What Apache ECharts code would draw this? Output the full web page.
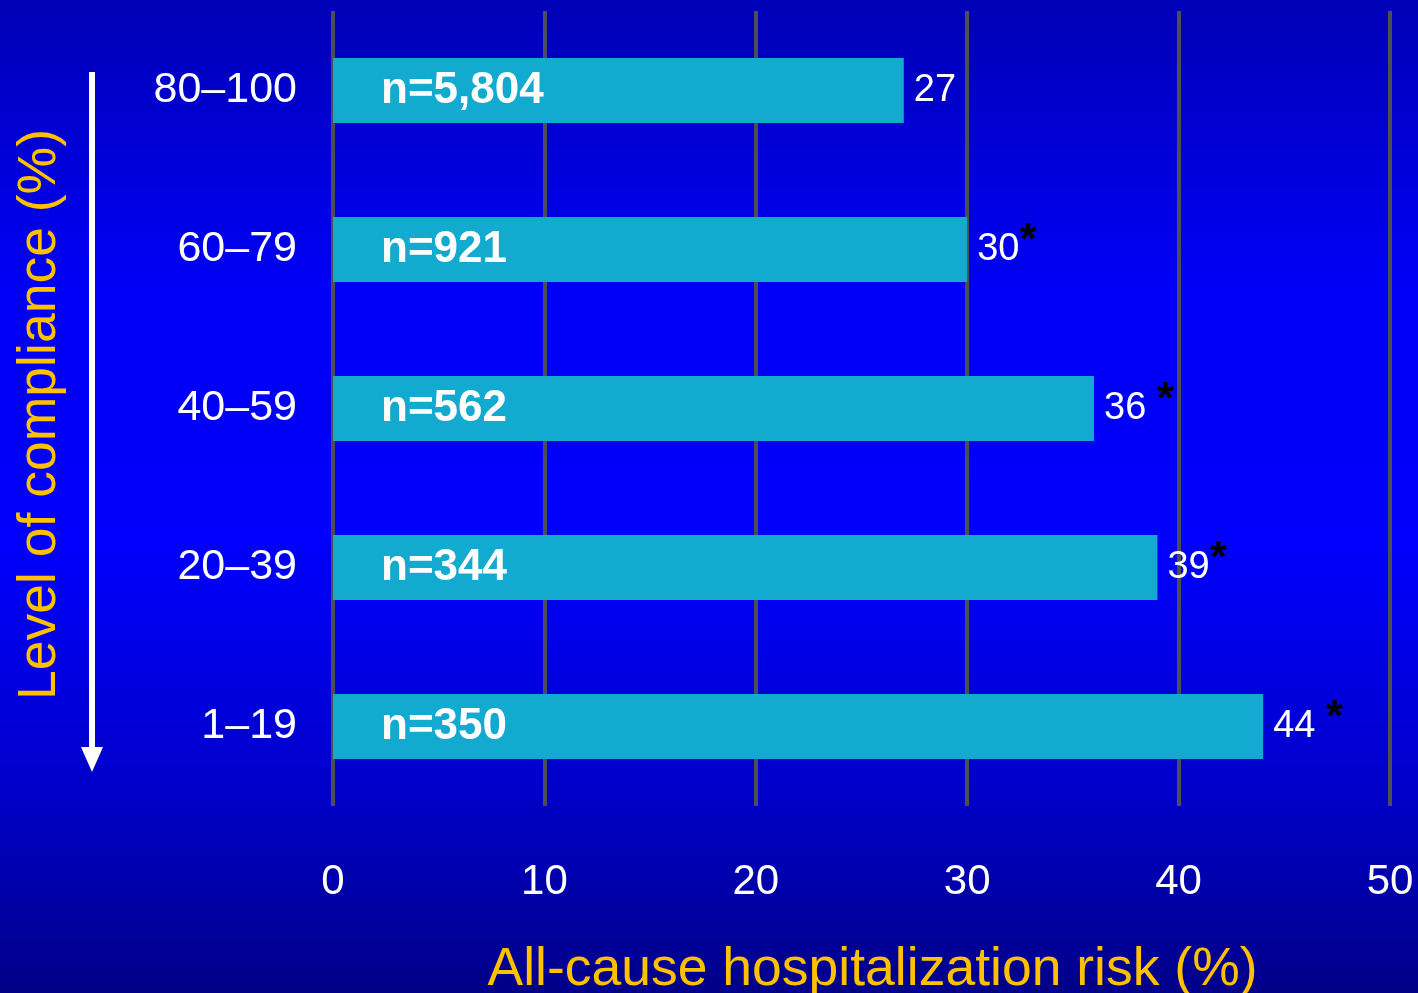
<!DOCTYPE html>
<html>
<head>
<meta charset="utf-8">
<script src="https://cdn.jsdelivr.net/npm/echarts@6/dist/echarts.min.js"></script>
<style>
  html, body { margin: 0; padding: 0; width: 100%; height: 100%; overflow: hidden; }
  #chart { width: 1418px; height: 993px; }
</style>
</head>
<body>
<div id="chart"></div>
<script>
// Compliance bands, top to bottom
const categories = ['80–100', '60–79', '40–59', '20–39', '1–19'];
// All-cause hospitalization risk (%) per band
const riskValues = [27, 30, 36, 39, 44];
// Patients per band
const sampleSizes = ['5,804', '921', '562', '344', '350'];
// Significance markers shown after each value
const significance = ['', '*', ' *', '*', ' *'];
// X axis ticks
const xTicks = [0, 10, 20, 30, 40, 50];

const FONT = '"Liberation Sans", Arial, sans-serif';
const ORANGE = '#FFC000';

const chart = echarts.init(document.getElementById('chart'));

chart.setOption({
  backgroundColor: {
    type: 'linear', x: 0, y: 0, x2: 0, y2: 1,
    colorStops: [
      { offset: 0, color: '#0000b6' },
      { offset: 0.3, color: '#0000f8' },
      { offset: 0.55, color: '#0000fc' },
      { offset: 0.8, color: '#0000c8' },
      { offset: 1, color: '#000088' }
    ]
  },
  textStyle: { fontFamily: FONT },
  animation: false,
  grid: { left: 333, right: 28, top: 11, bottom: 187, containLabel: false, outerBoundsMode: 'none' },
  xAxis: {
    type: 'value',
    min: xTicks[0],
    max: xTicks[xTicks.length - 1],
    interval: 10,
    axisLine: { show: false },
    axisTick: { show: false },
    splitLine: { show: true, lineStyle: { color: '#4d4d55', width: 4 } },
    axisLabel: { color: '#ffffff', fontSize: 42, margin: 55, fontFamily: FONT },
    name: 'All-cause hospitalization risk (%)',
    nameLocation: 'middle',
    nameGap: 137,
    nameTextStyle: { color: ORANGE, fontSize: 53.5, fontFamily: FONT, padding: [0, 0, 0, 22] }
  },
  yAxis: {
    type: 'category',
    data: categories,
    inverse: true,
    axisLine: { show: false },
    axisTick: { show: false },
    splitLine: { show: false },
    axisLabel: { color: '#ffffff', fontSize: 43, margin: 36, fontFamily: FONT },
    name: 'Level of compliance (%)',
    nameLocation: 'middle',
    nameRotate: 90,
    nameGap: 266,
    nameTextStyle: { color: ORANGE, fontSize: 53.5, fontFamily: FONT, padding: [0, 12, 0, 0] }
  },
  series: [
    {
      type: 'bar',
      data: riskValues,
      barWidth: 65,
      itemStyle: { color: '#12aace' },
      label: {
        show: true,
        position: 'right',
        distance: 10,
        formatter: function (p) {
          const mark = significance[p.dataIndex];
          if (!mark) return '{v|' + p.value + '}';
          const gap = mark.startsWith(' ') ? ' ' : '';
          return '{v|' + p.value + gap + '}{s|*}';
        },
        rich: {
          v: { color: '#ffffff', fontSize: 38, fontFamily: FONT },
          s: { color: '#000000', fontSize: 44, fontWeight: 'bold', fontFamily: FONT, padding: [0, 0, 16, 0] }
        }
      },
      z: 3
    },
    {
      type: 'bar',
      data: riskValues,
      barWidth: 65,
      barGap: '-100%',
      itemStyle: { color: 'rgba(0,0,0,0)' },
      label: {
        show: true,
        position: 'insideLeft',
        distance: 48,
        formatter: function (p) { return 'n=' + sampleSizes[p.dataIndex]; },
        color: '#ffffff',
        fontSize: 44,
        fontWeight: 'bold',
        fontFamily: FONT
      },
      z: 4
    }
  ],
  graphic: [
    {
      type: 'line',
      shape: { x1: 92, y1: 72, x2: 92, y2: 752 },
      style: { stroke: '#ffffff', lineWidth: 6 }
    },
    {
      type: 'polygon',
      shape: { points: [[81, 747], [103, 747], [92, 772]] },
      style: { fill: '#ffffff' }
    }
  ]
});
</script>
</body>
</html>
